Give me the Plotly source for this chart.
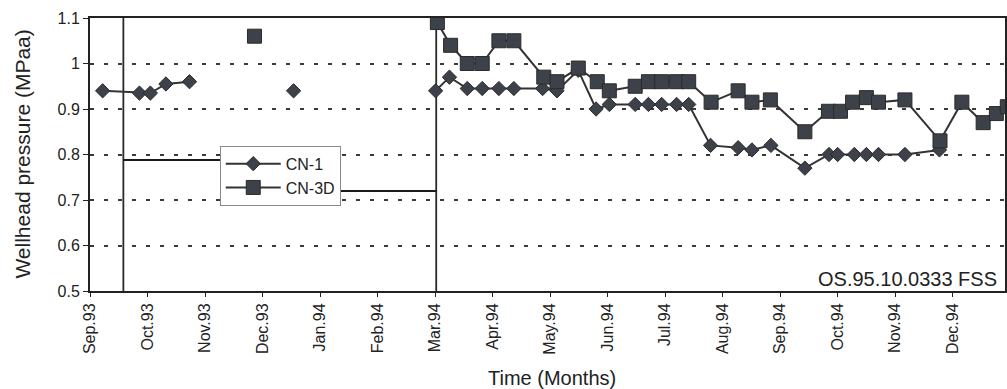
import plotly.graph_objects as go

# Month positions are counted from the start of Sep. 1993 (0 = Sep.93, 1 = Oct.93, ...)
month_labels = ["Sep.93", "Oct.93", "Nov.93", "Dec.93", "Jan.94", "Feb.94", "Mar.94",
                "Apr.94", "May.94", "Jun.94", "Jul.94", "Aug.94", "Sep.94", "Oct.94",
                "Nov.94", "Dec.94"]
month_ticks = list(range(len(month_labels)))

# CN-1 wellhead pressure (MPaa); None breaks the line between measurement campaigns
cn1_month = [0.22, 0.86, 1.05, 1.32, 1.73, None, 3.54, None,
             6.01, 6.25, 6.56, 6.82, 7.11, 7.37, 7.87, 8.12, 8.49, 8.80, 9.03,
             9.48, 9.71, 9.94, 10.20, 10.41, 10.79, 11.27, 11.51, 11.84, 12.43,
             12.85, 13.00, 13.29, 13.50, 13.71, 14.17, 14.77]
cn1_pressure = [0.94, 0.935, 0.935, 0.955, 0.96, None, 0.94, None,
                0.94, 0.97, 0.945, 0.945, 0.945, 0.945, 0.945, 0.94, 0.985, 0.90, 0.91,
                0.91, 0.91, 0.91, 0.91, 0.91, 0.82, 0.815, 0.81, 0.82, 0.77,
                0.80, 0.80, 0.80, 0.80, 0.80, 0.80, 0.81]

# CN-3D wellhead pressure (MPaa)
cn3d_month = [2.86, None,
              6.04, 6.27, 6.56, 6.82, 7.11, 7.37, 7.89, 8.12, 8.49, 8.82, 9.03,
              9.48, 9.71, 9.94, 10.20, 10.41, 10.80, 11.27, 11.51, 11.83, 12.43,
              12.84, 13.05, 13.26, 13.50, 13.71, 14.17, 14.78, 15.16, 15.53, 15.76, 15.95]
cn3d_pressure = [1.06, None,
                 1.09, 1.04, 1.00, 1.00, 1.05, 1.05, 0.97, 0.96, 0.99, 0.96, 0.94,
                 0.95, 0.96, 0.96, 0.96, 0.96, 0.915, 0.94, 0.915, 0.92, 0.85,
                 0.895, 0.895, 0.915, 0.925, 0.915, 0.92, 0.83, 0.915, 0.87, 0.89, 0.905]

# Event markers: two vertical lines and the stepped level line between them
event_x = [0.58, 0.58, None, 6.02, 6.02]
event_y = [0.5, 1.1, None, 0.5, 1.1]
level_x = [0.58, 3.48, 3.48, 6.02]
level_y = [0.788, 0.788, 0.72, 0.72]

y_ticks = [0.5, 0.6, 0.7, 0.8, 0.9, 1.0, 1.1]
y_tick_text = ["0.5", "0.6", "0.7", "0.8", "0.9", "1", "1.1"]

FONT = "Arial, Liberation Sans, Helvetica, sans-serif"
INK = "#222222"
MARK = "#3d4149"

fig = go.Figure()

fig.add_trace(go.Scatter(x=event_x, y=event_y, mode="lines", showlegend=False,
                         line=dict(color="#2a2a2a", width=1.8), hoverinfo="skip"))
fig.add_trace(go.Scatter(x=level_x, y=level_y, mode="lines", showlegend=False,
                         line=dict(color="#1a1a1a", width=2), hoverinfo="skip"))

fig.add_trace(go.Scatter(
    x=cn1_month, y=cn1_pressure, name="CN-1", mode="lines+markers",
    line=dict(color="#333333", width=2),
    marker=dict(symbol="diamond", size=11, color=MARK,
                line=dict(color="#2b2b2b", width=1)),
))
fig.add_trace(go.Scatter(
    x=cn3d_month, y=cn3d_pressure, name="CN-3D", mode="lines+markers",
    line=dict(color="#333333", width=2),
    marker=dict(symbol="square", size=14, color=MARK,
                line=dict(color="#2b2b2b", width=1)),
))

fig.update_layout(
    width=1007, height=389,
    margin=dict(l=90, r=0, t=18, b=98),
    paper_bgcolor="white", plot_bgcolor="white",
    font=dict(family=FONT, color=INK),
    legend=dict(x=0.1418, y=0.532, xanchor="left", yanchor="top",
                bgcolor="white", bordercolor="#8a8a8a", borderwidth=1,
                font=dict(size=16, color=INK), tracegroupgap=0, itemwidth=55),
    annotations=[
        dict(text="Wellhead pressure (MPaa)", textangle=-90, showarrow=False,
             xref="paper", yref="paper", x=-0.0742, y=0.5,
             xanchor="center", yanchor="middle", font=dict(size=21, color=INK)),
        dict(text="Time (Months)", showarrow=False,
             xref="paper", yref="paper", x=0.505, y=-0.319,
             xanchor="center", yanchor="middle", font=dict(size=20, color=INK)),
        dict(text="OS.95.10.0333 FSS", showarrow=False,
             xref="paper", yref="paper", x=0.993, y=0.045,
             xanchor="right", yanchor="middle", font=dict(size=20, color=INK)),
    ],
)

fig.update_xaxes(
    range=[0, 15.91], tickvals=month_ticks, ticktext=month_labels, tickangle=-90,
    tickfont=dict(size=16, color=INK), ticks="outside", ticklen=4, tickcolor=INK,
    showgrid=False, zeroline=False,
    showline=True, linecolor=INK, linewidth=2, mirror=True,
)
fig.update_yaxes(
    range=[0.5, 1.1], tickvals=y_ticks, ticktext=y_tick_text,
    tickfont=dict(size=16, color=INK), ticks="outside", ticklen=5, tickcolor=INK,
    showgrid=True, gridcolor="#3a3a3a", gridwidth=2, griddash="4px,10px",
    zeroline=False,
    showline=True, linecolor=INK, linewidth=2, mirror=True,
)

fig.write_html("out.html")
